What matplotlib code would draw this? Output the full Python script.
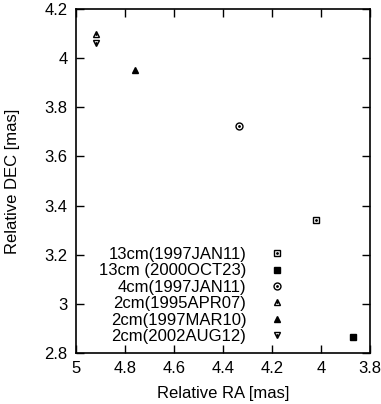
import matplotlib
matplotlib.use("Agg")
import matplotlib.pyplot as plt
from matplotlib.legend_handler import HandlerTuple

plt.rcParams["font.family"] = ["Liberation Sans", "DejaVu Sans"]
plt.rcParams["font.size"] = 12

# epochs and positions (relative RA / DEC, mas)
labels = ["13cm(1997JAN11)", "13cm (2000OCT23)", "4cm(1997JAN11)",
          "2cm(1995APR07)", "2cm(1997MAR10)", "2cm(2002AUG12)"]
ra = [4.02, 3.87, 4.335, 4.92, 4.76, 4.92]
dec = [3.34, 2.865, 3.725, 4.10, 3.95, 4.062]
markers = ["s", "s", "o", "^", "^", "v"]
filled = [False, True, False, False, True, False]

fig = plt.figure(figsize=(3.81, 4.04), dpi=100)
ax = fig.add_axes([76 / 381, 1 - 353 / 404, 294 / 381, 344 / 404])

handles = []
for x, y, m, f in zip(ra, dec, markers, filled):
    h, = ax.plot([x], [y], linestyle="none", marker=m, markersize=5.0,
                 markerfacecolor="black" if f else "white",
                 markeredgecolor="black", markeredgewidth=1.0)
    if f:
        handles.append(h)
    else:
        # open symbols carry a small centre dot
        hd, = ax.plot([x], [y], linestyle="none", marker="o", markersize=1.0,
                      color="black")
        handles.append((h, hd))

ax.set_xlim(5, 3.8)
ax.set_ylim(2.8, 4.2)
ax.set_xticks([5, 4.8, 4.6, 4.4, 4.2, 4, 3.8])
ax.set_xticklabels(["5", "4.8", "4.6", "4.4", "4.2", "4", "3.8"])
ax.set_yticks([2.8, 3, 3.2, 3.4, 3.6, 3.8, 4, 4.2])
ax.set_yticklabels(["2.8", "3", "3.2", "3.4", "3.6", "3.8", "4", "4.2"])
ax.tick_params(direction="in", top=True, right=True, length=6, width=1, pad=6)
for s in ax.spines.values():
    s.set_linewidth(1.2)

ax.set_xlabel("Relative RA [mas]", labelpad=7)
ax.set_ylabel("Relative DEC [mas]", labelpad=18)

ax.legend(handles, labels, handler_map={tuple: HandlerTuple(ndivide=1, pad=0)},
          loc="lower right", bbox_to_anchor=(0.772, 0.0), frameon=False,
          markerfirst=False, handletextpad=0.85, labelspacing=0.08,
          borderaxespad=0.15, fontsize=12)

fig.savefig("out.png", dpi=100)
